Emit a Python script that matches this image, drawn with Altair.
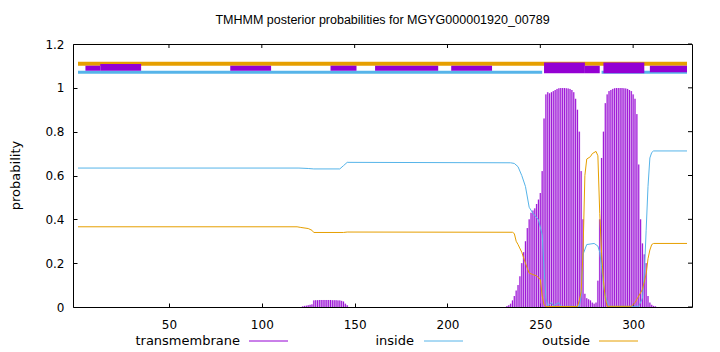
import altair as alt
import pandas as pd

# ---------------- data ----------------
seq_len = 329
title_text = "TMHMM posterior probabilities for MGYG000001920_00789"

inside_pos = [1, 120, 125, 128, 142, 144, 146, 234, 236, 238, 240, 242, 244, 246, 249, 251, 252,
              253, 254, 256, 257, 260, 261, 271, 272, 273, 275, 279, 281, 282, 283, 284, 285, 287,
              303, 305, 306, 307, 308, 309, 310, 311, 329]
inside_val = [0.634, 0.634, 0.632, 0.630, 0.630, 0.645, 0.660, 0.658, 0.655, 0.640, 0.600, 0.550,
              0.455, 0.428, 0.398, 0.330, 0.180, 0.040, 0.005, 0.020, 0.005, 0.020, 0.003, 0.003,
              0.050, 0.240, 0.285, 0.290, 0.278, 0.250, 0.184, 0.100, 0.050, 0.003, 0.003, 0.040,
              0.150, 0.350, 0.550, 0.680, 0.705, 0.712, 0.712]

outside_pos = [1, 119, 121, 125, 127, 128, 144, 146, 235, 236, 237, 238, 240, 242, 243, 244, 246,
               248, 250, 251, 252, 253, 270, 271, 272, 273, 274, 275, 277, 278, 280, 281, 282, 283,
               284, 285, 286, 299, 301, 303, 305, 307, 308, 309, 310, 311, 329]
outside_val = [0.366, 0.366, 0.363, 0.358, 0.350, 0.340, 0.340, 0.342, 0.341, 0.335, 0.300, 0.285,
               0.250, 0.200, 0.176, 0.155, 0.148, 0.142, 0.125, 0.050, 0.010, 0.002, 0.002, 0.030,
               0.070, 0.250, 0.600, 0.675, 0.686, 0.700, 0.710, 0.690, 0.427, 0.245, 0.120, 0.040,
               0.003, 0.003, 0.020, 0.050, 0.080, 0.150, 0.220, 0.260, 0.285, 0.290, 0.290]

tm_pos = [122, 123, 124, 125, 126, 127, 128, 129, 130, 131, 132, 133, 134, 135, 136, 137, 138,
          139, 140, 141, 142, 143, 144, 145, 146,
          232, 233, 234, 235, 236, 237, 238, 239, 240, 241, 242, 243, 244, 245, 246, 247, 248,
          249, 250, 251, 252, 253, 254, 255, 256, 257, 258, 259, 260, 261, 262, 263, 264, 265,
          266, 267, 268, 269, 270, 271, 272, 273, 274, 275, 276, 277, 278, 279, 280, 281, 282,
          283, 284, 285, 286, 287, 288, 289, 290, 291, 292, 293, 294, 295, 296, 297, 298, 299,
          300, 301, 302, 303, 304, 305, 306, 307, 308, 309, 310, 311, 312]
tm_val = [0.003, 0.005, 0.006, 0.008, 0.010, 0.012, 0.030, 0.031, 0.031, 0.032, 0.032, 0.032,
          0.032, 0.032, 0.032, 0.032, 0.031, 0.031, 0.031, 0.030, 0.030, 0.028, 0.025, 0.015,
          0.008,
          0.004, 0.008, 0.015, 0.030, 0.050, 0.075, 0.100, 0.140, 0.200, 0.250, 0.300, 0.360,
          0.400, 0.430, 0.440, 0.450, 0.470, 0.490, 0.520, 0.620, 0.860, 0.970, 0.980, 0.975,
          0.980, 0.985, 0.990, 0.995, 0.998, 0.999, 0.999, 0.999, 0.998, 0.997, 0.995, 0.990,
          0.980, 0.950, 0.900, 0.800, 0.620, 0.400, 0.060, 0.040, 0.035, 0.030, 0.020, 0.015,
          0.020, 0.120, 0.400, 0.680, 0.800, 0.930, 0.970, 0.985, 0.990, 0.995, 0.998, 0.999,
          0.999, 0.999, 0.999, 0.998, 0.997, 0.995, 0.990, 0.985, 0.970, 0.950, 0.880, 0.650,
          0.400, 0.290, 0.240, 0.200, 0.050, 0.020, 0.010, 0.005, 0.003]

x_ticks = [50, 100, 150, 200, 250, 300]
y_ticks = [0, 0.2, 0.4, 0.6, 0.8, 1, 1.2]

# predicted topology band at the top
outside_band_start = [1]
outside_band_end = [329]
outside_band_level = [1.11]
inside_band_start = [1, 283]
inside_band_end = [251, 329]
inside_band_level = [1.071, 1.071]
tm_box_start = [5, 13, 83, 137, 161, 202, 252, 274, 284, 309]
tm_box_end = [13, 35, 105, 151, 195, 224, 274, 282, 306, 329]
tm_box_low = [1.078, 1.078, 1.078, 1.078, 1.078, 1.078, 1.066, 1.066, 1.066, 1.071]
tm_box_high = [1.101, 1.109, 1.101, 1.101, 1.101, 1.101, 1.116, 1.101, 1.116, 1.101]

legend_names = ["transmembrane", "inside", "outside"]

# ---------------- styles ----------------
C_TM = "#9400D3"
C_IN = "#56B4E9"
C_OUT = "#E69F00"
FONT = "DejaVu Sans"
TFONT = "Liberation Sans"
W, H = 619, 263

xs = alt.Scale(domain=[1, seq_len], nice=False, zero=False)
ys = alt.Scale(domain=[0, 1.2], nice=False)

x_axis = alt.Axis(values=x_ticks, title=None, grid=False, domain=False, tickSize=4, offset=-4,
                  tickColor="black", labelPadding=12, labelFont=FONT, labelFontSize=12,
                  labelColor="black")
y_axis = alt.Axis(values=y_ticks, title=None, grid=False, domain=False, tickSize=4, offset=-4,
                  tickColor="black", labelPadding=9, labelFont=FONT, labelFontSize=12,
                  labelColor="black", format="~g")

tm_df = pd.DataFrame({"pos": tm_pos, "tm": tm_val})
in_df = pd.DataFrame({"pos": inside_pos, "p": inside_val})
out_df = pd.DataFrame({"pos": outside_pos, "p": outside_val})

tm_fill = alt.Chart(tm_df).mark_bar(width=1.9, color=C_TM, opacity=0.28).encode(
    x=alt.X("pos:Q", scale=xs, axis=x_axis),
    y=alt.Y("tm:Q", scale=ys, axis=y_axis),
)
tm_line = alt.Chart(tm_df).mark_rule(color=C_TM, strokeWidth=0.9).encode(
    x=alt.X("pos:Q", scale=xs), y=alt.Y("tm:Q", scale=ys), y2=alt.datum(0)
)
in_line = alt.Chart(in_df).mark_line(color=C_IN, strokeWidth=1).encode(
    x=alt.X("pos:Q", scale=xs), y=alt.Y("p:Q", scale=ys)
)
out_line = alt.Chart(out_df).mark_line(color=C_OUT, strokeWidth=1).encode(
    x=alt.X("pos:Q", scale=xs), y=alt.Y("p:Q", scale=ys)
)

ob_df = pd.DataFrame({"s": outside_band_start, "e": outside_band_end, "v": outside_band_level})
ib_df = pd.DataFrame({"s": inside_band_start, "e": inside_band_end, "v": inside_band_level})
box_df = pd.DataFrame({"s": tm_box_start, "e": tm_box_end, "lo": tm_box_low, "hi": tm_box_high})

out_band = alt.Chart(ob_df).mark_rule(color=C_OUT, strokeWidth=4).encode(
    x=alt.X("s:Q", scale=xs), x2="e:Q", y=alt.Y("v:Q", scale=ys)
)
in_band = alt.Chart(ib_df).mark_rule(color=C_IN, strokeWidth=3).encode(
    x=alt.X("s:Q", scale=xs), x2="e:Q", y=alt.Y("v:Q", scale=ys)
)
boxes = alt.Chart(box_df).mark_rect(color=C_TM).encode(
    x=alt.X("s:Q", scale=xs), x2="e:Q", y=alt.Y("lo:Q", scale=ys), y2="hi:Q"
)

# mirrored inward ticks on top and right borders
xt_df = pd.DataFrame({"t": x_ticks})
yt_df = pd.DataFrame({"t": y_ticks})
top_ticks = alt.Chart(xt_df).mark_rule(color="black", strokeWidth=1).encode(
    x=alt.X("t:Q", scale=xs), y=alt.value(0), y2=alt.value(4)
)
right_ticks = alt.Chart(yt_df).mark_rule(color="black", strokeWidth=1).encode(
    y=alt.Y("t:Q", scale=ys), x=alt.value(W - 4), x2=alt.value(W)
)

# y axis title
ylab = alt.Chart(pd.DataFrame({"t": ["probability"]})).mark_text(
    font=FONT, fontSize=13, angle=270, align="center", baseline="middle", color="black"
).encode(text="t:N", x=alt.value(-57), y=alt.value(H / 2))

# legend below the plot
legend_layers = []
leg_text_end = [167, 341, 517]
leg_line = [(176, 215), (351, 390), (526, 565)]
leg_colors = [C_TM, C_IN, C_OUT]
for i, name in enumerate(legend_names):
    d = pd.DataFrame({"n": [name]})
    legend_layers.append(
        alt.Chart(d).mark_text(font=FONT, fontSize=13, align="right", baseline="middle",
                               color="black").encode(
            text="n:N", x=alt.value(leg_text_end[i]), y=alt.value(H + 34))
    )
    legend_layers.append(
        alt.Chart(d).mark_rule(color=leg_colors[i], strokeWidth=1).encode(
            x=alt.value(leg_line[i][0]), x2=alt.value(leg_line[i][1]), y=alt.value(H + 34))
    )

chart = alt.layer(
    tm_fill, tm_line, in_line, out_line, out_band, in_band, boxes,
    top_ticks, right_ticks, ylab, *legend_layers
).properties(
    width=W, height=H,
    background="white",
    title=alt.TitleParams(title_text, font=TFONT, fontSize=12.5, fontWeight="normal",
                          anchor="middle", offset=12, color="black"),
    autosize=alt.AutoSizeParams(type="none"),
    padding={"left": 73, "top": 44, "right": 28, "bottom": 45},
).configure_view(stroke="black", strokeWidth=1)

chart.save("out.html", embed_options={"renderer": "svg", "actions": False})
